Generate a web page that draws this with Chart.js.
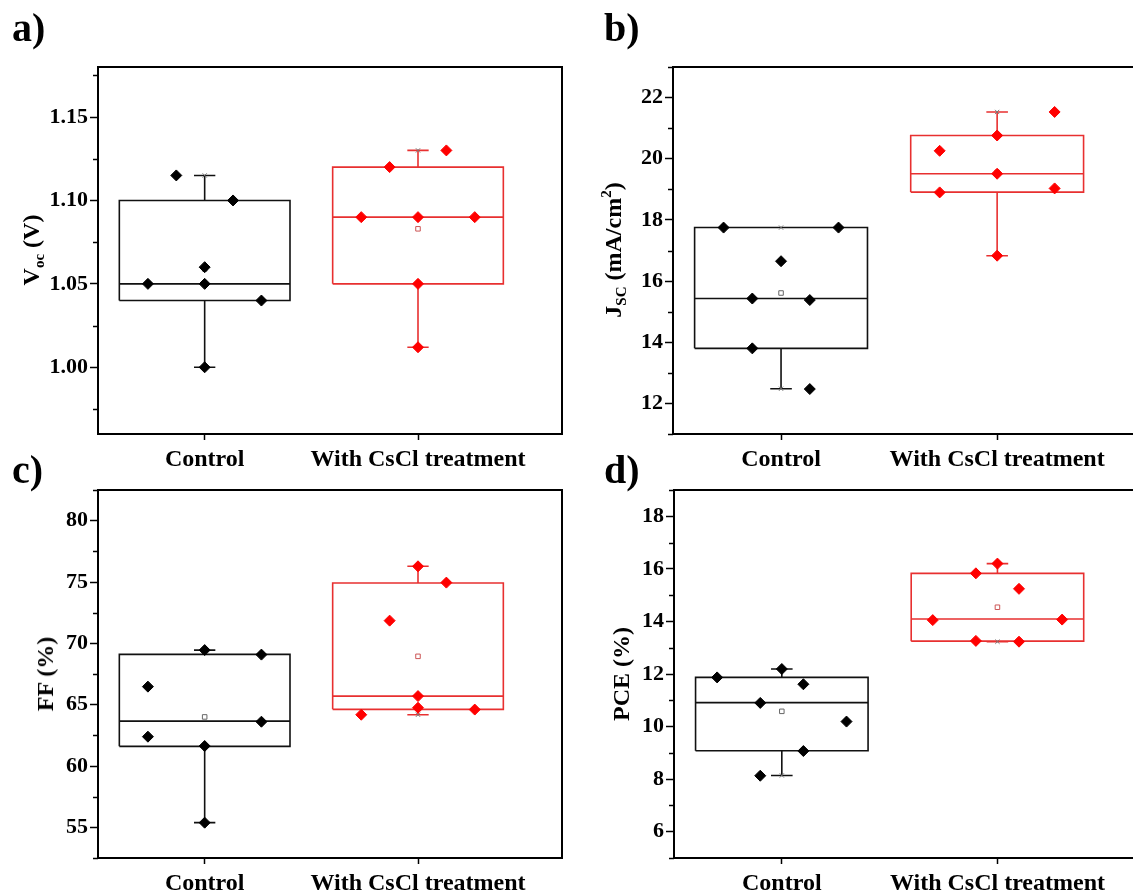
<!DOCTYPE html>
<html>
<head>
<meta charset="utf-8">
<script src="https://cdn.jsdelivr.net/npm/chart.js@4"></script>
<style>
  html, body { margin: 0; padding: 0; background: #fff; }
  body { width: 1133px; height: 892px; overflow: hidden; position: relative; font-family: "Liberation Serif", "Times New Roman", serif; }
  .wrap { position: absolute; overflow: hidden; }
  canvas { display: block; }
  .lbl { position: absolute; font-weight: bold; font-size: 40px; line-height: 40px; }
  .ytitle { position: absolute; font-weight: bold; font-size: 24px; line-height: 24px; white-space: nowrap;
            transform: translate(-50%, -50%) rotate(-90deg); }
  .ytitle sub, .ytitle sup { font-size: 15px; line-height: 0; position: relative; vertical-align: baseline; }
  .ytitle sub { top: 5px; }
  .ytitle sup { top: -10px; }
</style>
</head>
<body>
<div class="wrap" style="left:0;top:0;width:580px;height:470px"><canvas id="chart-a" width="580" height="470"></canvas></div>
<div class="wrap" style="left:580px;top:0;width:553px;height:470px"><canvas id="chart-b" width="580" height="470"></canvas></div>
<div class="wrap" style="left:0;top:470px;width:580px;height:422px"><canvas id="chart-c" width="580" height="422"></canvas></div>
<div class="wrap" style="left:580px;top:470px;width:553px;height:422px"><canvas id="chart-d" width="580" height="422"></canvas></div>

<div class="lbl" style="left:12px;top:8px">a)</div>
<div class="lbl" style="left:604px;top:8px">b)</div>
<div class="lbl" style="left:12px;top:450px">c)</div>
<div class="lbl" style="left:604px;top:450px">d)</div>
<div class="ytitle" style="left:31px;top:250px">V<sub>oc</sub> (V)</div>
<div class="ytitle" style="left:613px;top:250px">J<sub>SC</sub> (mA/cm<sup>2</sup>)</div>
<div class="ytitle" style="left:45px;top:674px">FF (%)</div>
<div class="ytitle" style="left:621px;top:674px">PCE (%)</div>

<script>
// categories
const categories = ["Control", "With CsCl treatment"];
const catPos = [1, 2];

// box stats: [q1, median, q3, whiskerLow, whiskerHigh, mean]
const vocCtrlBox = [1.04, 1.05, 1.10, 1.00, 1.115, 1.059];
const vocCsclBox = [1.05, 1.09, 1.12, 1.012, 1.13, 1.083];
const jscCtrlBox = [13.80, 15.43, 17.75, 12.48, 17.75, 15.61];
const jscCsclBox = [18.91, 19.51, 20.76, 16.83, 21.53, 19.55];
const ffCtrlBox = [61.6, 63.66, 69.1, 55.38, 69.45, 64.0];
const ffCsclBox = [64.62, 65.70, 74.92, 64.18, 76.28, 68.94];
const pceCtrlBox = [9.08, 10.91, 11.87, 8.14, 12.19, 10.58];
const pceCsclBox = [13.25, 14.09, 15.83, 13.23, 16.2, 14.54];

// individual device values and their jitter column
const vocCtrl = [1.05, 1.115, 1.05, 1.06, 1.00, 1.10, 1.04];
const vocCtrlCol = [-2, -1, 0, 0, 0, 1, 2];
const vocCscl = [1.09, 1.12, 1.09, 1.05, 1.012, 1.13, 1.09];
const vocCsclCol = [-2, -1, 0, 0, 0, 1, 2];

const jscCtrl = [17.75, 15.43, 13.80, 16.65, 15.38, 12.47, 17.75];
const jscCtrlCol = [-2, -1, -1, 0, 1, 1, 2];
const jscCscl = [20.26, 18.90, 20.76, 19.51, 16.83, 21.53, 19.03];
const jscCsclCol = [-2, -2, 0, 0, 0, 2, 2];

const ffCtrl = [66.47, 62.39, 69.45, 61.63, 55.38, 69.08, 63.61];
const ffCtrlCol = [-2, -2, 0, 0, 0, 2, 2];
const ffCscl = [64.18, 71.85, 76.28, 65.70, 64.75, 74.95, 64.6];
const ffCsclCol = [-2, -1, 0, 0, 0, 1, 2];

const pceCtrl = [11.87, 10.9, 8.13, 12.19, 11.61, 9.07, 10.19];
const pceCtrlCol = [-3, -1, -1, 0, 1, 1, 3];
const pceCscl = [14.05, 15.83, 13.26, 16.2, 15.24, 13.23, 14.07];
const pceCsclCol = [-3, -1, -1, 0, 1, 1, 3];

// tick labels
const vocTicks = [1.00, 1.05, 1.10, 1.15];
const vocMinor = [0.975, 1.025, 1.075, 1.125, 1.175];
const jscTicks = [12, 14, 16, 18, 20, 22];
const jscMinor = [11, 13, 15, 17, 19, 21, 23];
const ffTicks = [55, 60, 65, 70, 75, 80];
const ffMinor = [52.5, 57.5, 62.5, 67.5, 72.5, 77.5, 82.5];
const pceTicks = [6, 8, 10, 12, 14, 16, 18];
const pceMinor = [5, 7, 9, 11, 13, 15, 17, 19];

const FONT = "'Liberation Serif', 'Times New Roman', serif";
const BLACK = "#111";
const RED = "#ff0000";
const RED_LINE = "#e83030";

function boxPath(c, s) {
  const [q1, med, q3, lo, hi] = s;
  const w = 0.4, cap = 0.05;
  const gap = { x: c, y: null };
  return [
    { x: c - w, y: q1 }, { x: c + w, y: q1 }, { x: c + w, y: q3 }, { x: c - w, y: q3 }, { x: c - w, y: q1 }, gap,
    { x: c - w, y: med }, { x: c + w, y: med }, gap,
    { x: c, y: q3 }, { x: c, y: hi }, gap,
    { x: c - cap, y: hi }, { x: c + cap, y: hi }, gap,
    { x: c, y: q1 }, { x: c, y: lo }, gap,
    { x: c - cap, y: lo }, { x: c + cap, y: lo }
  ];
}

// draws the closed frame and the short minor ticks
const framePlugin = {
  id: "frame",
  afterDraw(chart, args, opts) {
    const { ctx, chartArea: a, scales } = chart;
    ctx.save();
    ctx.strokeStyle = "#000";
    ctx.lineWidth = 1.5;
    (opts.minor || []).forEach((v) => {
      const y = Math.round(scales.y.getPixelForValue(v)) + 0.5;
      ctx.beginPath();
      ctx.moveTo(a.left - 5, y);
      ctx.lineTo(a.left, y);
      ctx.stroke();
    });
    ctx.lineWidth = 2;
    ctx.strokeRect(a.left, a.top, a.right - a.left, a.bottom - a.top);
    ctx.restore();
  },
};

function makeChart(id, cfg) {
  const spacing = cfg.spacing;
  const pts = (vals, cols, c) => vals.map((v, i) => ({ x: c + cols[i] * spacing, y: v }));
  const ctx = document.getElementById(id).getContext("2d");
  return new Chart(ctx, {
    type: "scatter",
    data: {
      datasets: [
        {
          data: pts(cfg.ctrl, cfg.ctrlCol, catPos[0]),
          pointStyle: "rectRot", pointRadius: 5.5, pointBackgroundColor: "#000",
          pointBorderColor: "#000", pointBorderWidth: 1, order: 0,
        },
        {
          data: pts(cfg.cscl, cfg.csclCol, catPos[1]),
          pointStyle: "rectRot", pointRadius: 5.5, pointBackgroundColor: RED,
          pointBorderColor: RED, pointBorderWidth: 1, order: 0,
        },
        {
          data: [{ x: catPos[0], y: cfg.ctrlBox[5] }],
          pointStyle: "rect", pointRadius: 3.2, pointBackgroundColor: "#fff",
          pointBorderColor: "#666", pointBorderWidth: 1, order: 1,
        },
        {
          data: [{ x: catPos[1], y: cfg.csclBox[5] }],
          pointStyle: "rect", pointRadius: 3.2, pointBackgroundColor: "#fff",
          pointBorderColor: "#c55", pointBorderWidth: 1, order: 1,
        },
        {
          data: [{ x: catPos[0], y: cfg.ctrlBox[3] }, { x: catPos[0], y: cfg.ctrlBox[4] },
                 { x: catPos[1], y: cfg.csclBox[3] }, { x: catPos[1], y: cfg.csclBox[4] }],
          pointStyle: "crossRot", pointRadius: 3, pointBorderColor: "#777",
          pointBorderWidth: 1, order: 1,
        },
        {
          data: boxPath(catPos[0], cfg.ctrlBox),
          showLine: true, spanGaps: false, borderColor: BLACK, borderWidth: 1.6,
          borderJoinStyle: "miter", pointRadius: 0, order: 2,
        },
        {
          data: boxPath(catPos[1], cfg.csclBox),
          showLine: true, spanGaps: false, borderColor: RED_LINE, borderWidth: 1.6,
          borderJoinStyle: "miter", pointRadius: 0, order: 2,
        },
      ],
    },
    options: {
      animation: false,
      responsive: false,
      events: [],
      layout: { padding: cfg.padding },
      plugins: {
        legend: { display: false },
        tooltip: { enabled: false },
        frame: { minor: cfg.minor },
      },
      scales: {
        x: {
          type: "linear",
          min: 0.5,
          max: 2.675,
          afterBuildTicks: (scale) => { scale.ticks = catPos.map((v) => ({ value: v })); },
          afterFit: (scale) => {
            scale.height = cfg.xHeight;
            scale.paddingLeft = 0;
            scale.paddingRight = 0;
          },
          ticks: {
            autoSkip: false, maxRotation: 0, padding: 5, color: "#000",
            font: { family: FONT, size: 24, weight: "bold" },
            callback: (v, i) => categories[i],
          },
          grid: { drawOnChartArea: false, tickLength: 6, tickColor: "#000", tickWidth: 1.5 },
          border: { color: "#000", width: 2 },
        },
        y: {
          min: cfg.yMin,
          max: cfg.yMax,
          afterBuildTicks: (scale) => { scale.ticks = cfg.ticks.map((v) => ({ value: v })); },
          afterFit: (scale) => { scale.width = cfg.yWidth; },
          ticks: {
            padding: 2, color: "#000",
            font: { family: FONT, size: 22, weight: "bold" },
            callback: (v) => v.toFixed(cfg.decimals),
          },
          grid: { drawOnChartArea: false, tickLength: 8, tickColor: "#000", tickWidth: 1.5 },
          border: { color: "#000", width: 2 },
        },
      },
    },
    plugins: [framePlugin],
  });
}

makeChart("chart-a", {
  ctrl: vocCtrl, ctrlCol: vocCtrlCol, cscl: vocCscl, csclCol: vocCsclCol,
  ctrlBox: vocCtrlBox, csclBox: vocCsclBox, spacing: 0.133,
  yMin: 0.96, yMax: 1.18, ticks: vocTicks, minor: vocMinor, decimals: 2,
  padding: { top: 67, right: 18, left: 0, bottom: 0 }, yWidth: 98, xHeight: 36,
});
makeChart("chart-b", {
  ctrl: jscCtrl, ctrlCol: jscCtrlCol, cscl: jscCscl, csclCol: jscCsclCol,
  ctrlBox: jscCtrlBox, csclBox: jscCsclBox, spacing: 0.133,
  yMin: 11, yMax: 23, ticks: jscTicks, minor: jscMinor, decimals: 0,
  padding: { top: 67, right: 17, left: 0, bottom: 0 }, yWidth: 93, xHeight: 36,
});
makeChart("chart-c", {
  ctrl: ffCtrl, ctrlCol: ffCtrlCol, cscl: ffCscl, csclCol: ffCsclCol,
  ctrlBox: ffCtrlBox, csclBox: ffCsclBox, spacing: 0.133,
  yMin: 52.5, yMax: 82.5, ticks: ffTicks, minor: ffMinor, decimals: 0,
  padding: { top: 20, right: 18, left: 0, bottom: 0 }, yWidth: 98, xHeight: 34,
});
makeChart("chart-d", {
  ctrl: pceCtrl, ctrlCol: pceCtrlCol, cscl: pceCscl, csclCol: pceCsclCol,
  ctrlBox: pceCtrlBox, csclBox: pceCsclBox, spacing: 0.1,
  yMin: 5, yMax: 19, ticks: pceTicks, minor: pceMinor, decimals: 0,
  padding: { top: 20, right: 17, left: 0, bottom: 0 }, yWidth: 94, xHeight: 34,
});
</script>
</body>
</html>
